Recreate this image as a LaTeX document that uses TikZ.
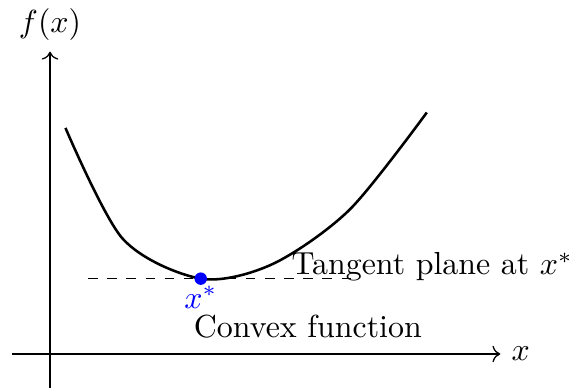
\documentclass[tikz,border=0pt]{standalone}
\usepackage{tikz}
\usetikzlibrary{arrows.meta,positioning}

\begin{document}
\begin{tikzpicture}[
  axis/.style={->},
  curve/.style={thick},
  tangent/.style={dashed},
  optdot/.style={circle, fill=blue, inner sep=0pt, minimum size=3.9pt}
]
\useasboundingbox (-0.551,-0.407) rectangle (5.716,3.899);

% axes
\coordinate (xmin) at (-0.42,0);
\coordinate (xmax) at (4.96,0);
\coordinate (ymin) at (0,-0.37);
\coordinate (ymax) at (0,3.33);
\draw[axis] (xmin) -- (xmax) node[right] (xlab) {$x$};
\draw[axis] (ymin) -- (ymax) node[above] (ylab) {$f(x)$};

% convex function
\draw[curve] plot[smooth] coordinates {(0.17,2.49) (0.80,1.27) (1.66,0.83)
  (2.45,0.99) (3.30,1.59) (4.15,2.66)};

% tangent plane at the minimum
\node[optdot] (xstar) at (1.66,0.83) {};
\coordinate (tl) at (0.42,0.83);
\coordinate (tr) at (3.33,0.83);
\draw[tangent] (tl) -- (xstar) -- (tr);
\node[below=-1pt of xstar, text=blue, inner sep=1pt] (xstarlab) {$x^*$};

\node (tanlab) at (4.21,0.96) {Tangent plane at $x^*$};
\node (convlab) at (2.84,0.30) {Convex function};
\end{tikzpicture}
\end{document}
